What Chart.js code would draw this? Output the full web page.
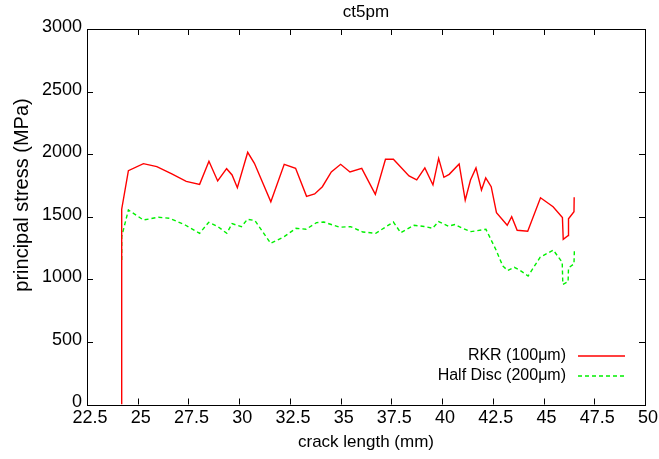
<!DOCTYPE html>
<html>
<head>
<meta charset="utf-8">
<title>ct5pm</title>
<script src="https://cdn.jsdelivr.net/npm/chart.js@4/dist/chart.umd.min.js"></script>
<style>
  html, body { margin: 0; padding: 0; background: #fff; }
  #wrap { width: 659px; height: 459px; }
</style>
</head>
<body>
<div id="wrap"><canvas id="stress" width="659" height="459"></canvas></div>
<script>
// crack length (mm) vs principal stress (MPa)
const rkrX = [24.21, 24.21, 24.54, 25.28, 25.94, 26.68, 27.39, 28.05, 28.51, 28.94,
  29.38, 29.65, 29.91, 30.42, 30.75, 31.56, 32.22, 32.78, 33.32, 33.72,
  34.10, 34.54, 35.00, 35.46, 36.04, 36.71, 37.21, 37.60, 38.37, 38.75,
  39.15, 39.55, 39.83, 40.09, 40.35, 40.84, 41.14, 41.40, 41.67, 41.94,
  42.15, 42.42, 42.68, 43.21, 43.43, 43.70, 44.22, 44.85, 45.47, 45.93,
  45.97, 46.22, 46.23, 46.50, 46.51];
const rkrY = [0, 1560, 1868, 1924, 1900, 1842, 1783, 1759, 1943, 1786,
  1884, 1834, 1732, 2015, 1927, 1620, 1919, 1887, 1663, 1682,
  1740, 1858, 1919, 1858, 1887, 1679, 1959, 1959, 1826, 1794,
  1890, 1754, 1966, 1815, 1839, 1922, 1632, 1794, 1890, 1714,
  1810, 1740, 1532, 1432, 1500, 1392, 1384, 1652, 1580, 1494,
  1320, 1350, 1484, 1540, 1655];

const discX = [24.21, 24.21, 24.54, 25.28, 26.02, 26.57, 27.34, 28.05, 28.50, 28.95,
  29.39, 29.65, 30.11, 30.41, 30.78, 31.55, 32.22, 32.80, 33.30, 33.81,
  34.17, 34.95, 35.49, 36.09, 36.73, 37.60, 37.96, 38.62, 39.12, 39.53,
  39.83, 40.31, 40.63, 40.98, 41.42, 42.16, 42.66, 42.99, 43.23, 43.56,
  43.81, 44.24, 44.83, 45.48, 45.92, 45.95, 46.21, 46.23, 46.50, 46.52];
const discY = [1155, 1341, 1554, 1474, 1496, 1488, 1434, 1368, 1456, 1421,
  1368, 1445, 1421, 1480, 1469, 1288, 1341, 1408, 1400, 1453,
  1458, 1416, 1421, 1378, 1368, 1458, 1373, 1432, 1422, 1408,
  1462, 1424, 1438, 1410, 1381, 1400, 1234, 1107, 1071, 1096,
  1075, 1027, 1176, 1234, 1136, 960, 981, 1091, 1123, 1234];

const seriesNames = ['RKR (100\u03bcm)', 'Half Disc (200\u03bcm)'];
const xTicks = [22.5, 25, 27.5, 30, 32.5, 35, 37.5, 40, 42.5, 45, 47.5, 50];
const xTickLabels = ['22.5', '25', '27.5', '30', '32.5', '35', '37.5', '40', '42.5', '45', '47.5', '50'];
const yTicks = [0, 500, 1000, 1500, 2000, 2500, 3000];
const yTickLabels = ['0', '500', '1000', '1500', '2000', '2500', '3000'];

const FONT = "'Liberation Sans', Arial, Helvetica, sans-serif";

function pairs(xs, ys) {
  return xs.map(function (x, i) { return { x: x, y: ys[i] }; });
}

// frame round the plot with inward ticks on all four sides
const framePlugin = {
  id: 'frame',
  afterDraw: function (chart) {
    const ctx = chart.ctx;
    const a = chart.chartArea;
    const xs = chart.scales.x;
    const ys = chart.scales.y;
    const len = 6;
    ctx.save();
    ctx.strokeStyle = '#000';
    ctx.lineWidth = 1;
    ctx.beginPath();
    ys.ticks.forEach(function (t) {
      const y = Math.round(ys.getPixelForValue(t.value)) + 0.5;
      ctx.moveTo(a.left, y); ctx.lineTo(a.left + len, y);
      ctx.moveTo(a.right, y); ctx.lineTo(a.right - len, y);
    });
    xs.ticks.forEach(function (t) {
      const x = Math.round(xs.getPixelForValue(t.value)) + 0.5;
      ctx.moveTo(x, a.bottom); ctx.lineTo(x, a.bottom - len);
      ctx.moveTo(x, a.top); ctx.lineTo(x, a.top + len);
    });
    ctx.stroke();
    ctx.strokeRect(Math.round(a.left) + 0.5, Math.round(a.top) + 0.5,
      Math.round(a.right - a.left), Math.round(a.bottom - a.top));
    ctx.restore();
  }
};

// rotated y label, sitting a little above the middle of the plot
const yLabelPlugin = {
  id: 'yLabel',
  afterDraw: function (chart) {
    const ctx = chart.ctx;
    ctx.save();
    ctx.translate(22, 195);
    ctx.rotate(-Math.PI / 2);
    ctx.font = '20px ' + FONT;
    ctx.fillStyle = '#000';
    ctx.textAlign = 'center';
    ctx.textBaseline = 'middle';
    ctx.fillText('principal stress (MPa)', 0, 0);
    ctx.restore();
  }
};

// key in the lower right corner: text first, then the line sample
const keyPlugin = {
  id: 'key',
  afterDraw: function (chart) {
    const ctx = chart.ctx;
    const a = chart.chartArea;
    const textRight = a.right - 79;
    const lineLeft = a.right - 67;
    const lineRight = a.right - 20;
    let y = a.bottom - 49;
    ctx.save();
    ctx.font = '16px ' + FONT;
    ctx.textAlign = 'right';
    ctx.textBaseline = 'middle';
    chart.data.datasets.forEach(function (ds) {
      ctx.fillStyle = '#000';
      ctx.fillText(ds.label, textRight, y);
      ctx.beginPath();
      ctx.strokeStyle = ds.borderColor;
      ctx.lineWidth = ds.borderWidth;
      ctx.setLineDash(ds.borderDash || []);
      ctx.moveTo(lineLeft, y + 0.5);
      ctx.lineTo(lineRight, y + 0.5);
      ctx.stroke();
      y += 20;
    });
    ctx.restore();
  }
};

new Chart(document.getElementById('stress'), {
  type: 'line',
  data: {
    datasets: [{
      label: seriesNames[0],
      data: pairs(rkrX, rkrY),
      borderColor: '#ff0000',
      borderWidth: 1.4,
      pointRadius: 0,
      tension: 0,
      fill: false
    }, {
      label: seriesNames[1],
      data: pairs(discX, discY),
      borderColor: '#00f000',
      borderWidth: 1.4,
      borderDash: [4, 3],
      pointRadius: 0,
      tension: 0,
      fill: false
    }]
  },
  options: {
    responsive: false,
    animation: false,
    devicePixelRatio: 1,
    layout: { padding: { left: 0, right: 14, top: 0, bottom: 0 } },
    plugins: {
      legend: { display: false },
      tooltip: { enabled: false },
      title: {
        display: true,
        text: 'ct5pm',
        fullSize: false,
        color: '#000',
        font: { family: FONT, size: 17, weight: 'normal' },
        padding: { top: 2, bottom: 6.6 }
      }
    },
    scales: {
      x: {
        type: 'linear',
        min: 22.5,
        max: 50,
        afterBuildTicks: function (s) { s.ticks = xTicks.map(function (v) { return { value: v }; }); },
        afterFit: function (s) { s.height = 54.5; },
        grid: { display: false, drawTicks: false },
        border: { display: false },
        ticks: {
          color: '#000',
          font: { family: FONT, size: 18 },
          padding: 3,
          labelOffset: 3,
          maxRotation: 0,
          autoSkip: false,
          callback: function (v, i) { return xTickLabels[i]; }
        },
        title: {
          display: true,
          text: 'crack length (mm)',
          color: '#000',
          font: { family: FONT, size: 17 },
          padding: { top: 0, bottom: 6 }
        }
      },
      y: {
        type: 'linear',
        min: 0,
        max: 3000,
        afterBuildTicks: function (s) { s.ticks = yTicks.map(function (v) { return { value: v }; }); },
        afterFit: function (s) { s.width = 87; },
        grid: { display: false, drawTicks: false },
        border: { display: false },
        ticks: {
          color: '#000',
          font: { family: FONT, size: 18 },
          padding: 5,
          labelOffset: -2,
          autoSkip: false,
          callback: function (v, i) { return yTickLabels[i]; }
        },
        title: { display: false }
      }
    }
  },
  plugins: [framePlugin, yLabelPlugin, keyPlugin]
});
</script>
</body>
</html>
